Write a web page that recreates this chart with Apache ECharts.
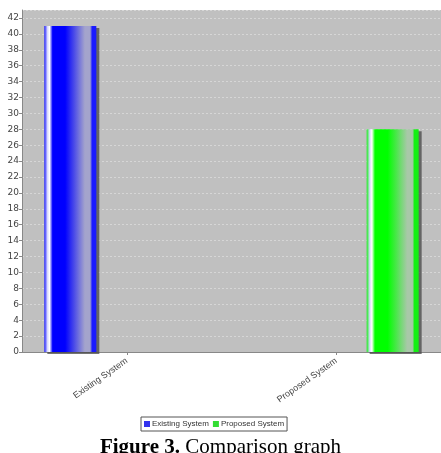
<!DOCTYPE html>
<html>
<head>
<meta charset="utf-8">
<script src="https://cdn.jsdelivr.net/npm/echarts@6/dist/echarts.min.js"></script>
<style>
  html, body { margin: 0; padding: 0; background: #fff; }
  #chart { width: 441px; height: 453px; }
</style>
</head>
<body>
<div id="chart"></div>
<script>
// data
var categories = ['Existing System', 'Proposed System']
var existingSystem = [41, '-']
var proposedSystem = ['-', 28]

// horizontal "cylinder" shading like the java chart
function barShade(main, mid, edge) {
  return new echarts.graphic.LinearGradient(0, 0, 1, 0, [
    { offset: 0, color: edge },
    { offset: 0.06, color: '#d8d8ff' },
    { offset: 0.1, color: '#ffffff' },
    { offset: 0.16, color: main },
    { offset: 0.4, color: main },
    { offset: 0.78, color: mid },
    { offset: 0.88, color: mid },
    { offset: 0.92, color: edge },
    { offset: 1, color: edge }
  ])
}

var chart = echarts.init(document.getElementById('chart'), null, { renderer: 'canvas' })

chart.setOption({
  backgroundColor: '#ffffff',
  animation: false,
  title: {
    text: '{b|Figure 3.} Comparison graph',
    left: 'center',
    top: 437,
    padding: 0,
    textStyle: {
      fontFamily: 'Liberation Serif',
      fontSize: 21,
      fontWeight: 'normal',
      color: '#000',
      rich: {
        b: { fontFamily: 'Liberation Serif', fontSize: 21, fontWeight: 'bold', color: '#000' }
      }
    }
  },
  legend: {
    data: [
      { name: 'Existing System', itemStyle: { color: '#3333ee' } },
      { name: 'Proposed System', itemStyle: { color: '#33dd33' } }
    ],
    left: 141,
    top: 417,
    icon: 'rect',
    itemWidth: 6,
    itemHeight: 6,
    itemGap: 4,
    padding: [3, 3, 3, 3],
    borderColor: '#555',
    borderWidth: 1,
    textStyle: { fontSize: 8, color: '#333', fontFamily: 'Liberation Sans', padding: [0, 0, 0, -3] }
  },
  grid: {
    left: 22, right: 0, top: 10, bottom: 101,
    show: true,
    backgroundColor: '#c0c0c0',
    borderWidth: 0
  },
  xAxis: {
    type: 'category',
    data: categories,
    boundaryGap: true,
    axisLine: { lineStyle: { color: '#888', width: 1 } },
    axisTick: { show: true, alignWithLabel: true, length: 3, lineStyle: { color: '#888' } },
    axisLabel: {
      rotate: 35,
      margin: 8,
      fontSize: 9,
      fontFamily: 'Liberation Sans',
      color: '#444'
    },
    splitLine: { show: false }
  },
  yAxis: {
    type: 'value',
    min: 0,
    max: 43,
    interval: 2,
    axisLine: { show: true, lineStyle: { color: '#888' } },
    axisTick: { show: true, length: 3, lineStyle: { color: '#888' } },
    axisLabel: {
      showMaxLabel: false,
      margin: 3,
      fontSize: 9,
      fontFamily: 'DejaVu Sans',
      color: '#444'
    },
    splitLine: {
      show: true,
      lineStyle: { color: 'rgba(255,255,255,0.35)', type: [2, 2], width: 1 }
    }
  },
  series: [
    {
      name: 'Existing System',
      type: 'bar',
      data: existingSystem,
      barWidth: 52,
      barGap: '117%',
      itemStyle: {
        color: barShade('#0000ff', '#a4a4cc', '#1a1aff'),
        shadowColor: 'rgba(70,70,70,0.75)',
        shadowOffsetX: 3,
        shadowOffsetY: 2,
        shadowBlur: 0
      }
    },
    {
      name: 'Proposed System',
      type: 'bar',
      data: proposedSystem,
      barWidth: 52,
      itemStyle: {
        color: barShade('#00ff00', '#a8c8a8', '#14f014'),
        shadowColor: 'rgba(70,70,70,0.75)',
        shadowOffsetX: 3,
        shadowOffsetY: 2,
        shadowBlur: 0
      }
    }
  ]
})
</script>
</body>
</html>
